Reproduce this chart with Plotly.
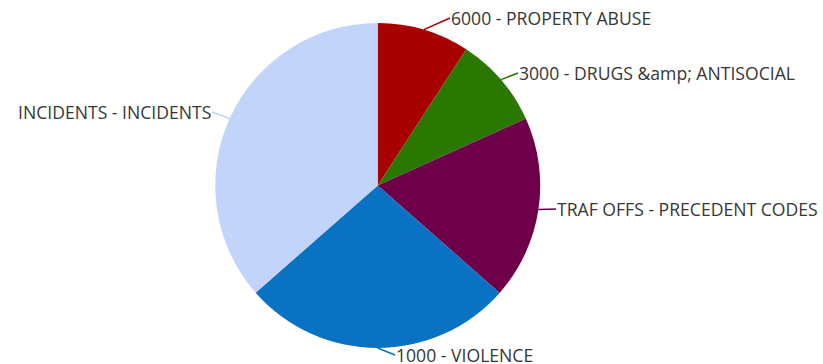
import math
import plotly.graph_objects as go

# ---- data ----
categories = [
    "6000 - PROPERTY ABUSE",
    "3000 - DRUGS &amp; ANTISOCIAL",
    "TRAF OFFS - PRECEDENT CODES",
    "1000 - VIOLENCE",
    "INCIDENTS - INCIDENTS",
]
values = [33.0, 32.7, 65.7, 97.3, 131.3]

# ---- style ----
colors = ["#A80000", "#2A7800", "#6E004A", "#0A72C2", "#C3D4FA"]
W, H = 823, 364
dom_x = [0.2615, 0.6564]
dom_y = [0.044, 0.937]
# label tail positions (pixels) and anchors
label_pos = [(450, 18), (518, 73), (556, 209), (395, 355), (212, 112)]
label_anchor = ["left", "left", "left", "left", "right"]

cx = (dom_x[0] + dom_x[1]) / 2 * W
cy = (1 - (dom_y[0] + dom_y[1]) / 2) * H
r = min((dom_x[1] - dom_x[0]) * W, (dom_y[1] - dom_y[0]) * H) / 2

fig = go.Figure(go.Pie(
    labels=categories, values=values, sort=False, direction="clockwise",
    rotation=0, textinfo="none", hoverinfo="label+value",
    marker=dict(colors=colors, line=dict(width=0)),
    domain=dict(x=dom_x, y=dom_y), showlegend=False,
))

total = sum(values)
cum = 0
annotations = []
for i, v in enumerate(values):
    mid = (cum + v / 2) / total * 2 * math.pi
    cum += v
    hx = cx + r * math.sin(mid)
    hy = cy - r * math.cos(mid)
    tx, ty = label_pos[i]
    annotations.append(dict(
        x=hx / W, y=1 - hy / H, xref="paper", yref="paper",
        ax=tx - hx, ay=ty - hy, axref="pixel", ayref="pixel",
        text=categories[i].replace("&", "&amp;"), showarrow=True, arrowhead=0,
        arrowwidth=1.5, arrowcolor=colors[i], xanchor=label_anchor[i],
        yanchor="middle", borderpad=0,
        font=dict(family="Open Sans, Noto Sans, sans-serif", size=17.6, color="#363636"),
    ))

fig.update_layout(
    width=W, height=H, margin=dict(l=0, r=0, t=0, b=0),
    paper_bgcolor="white", plot_bgcolor="white", annotations=annotations,
)
fig.write_html("out.html", config={"displayModeBar": False},
               post_script="document.body.style.margin='0';")
